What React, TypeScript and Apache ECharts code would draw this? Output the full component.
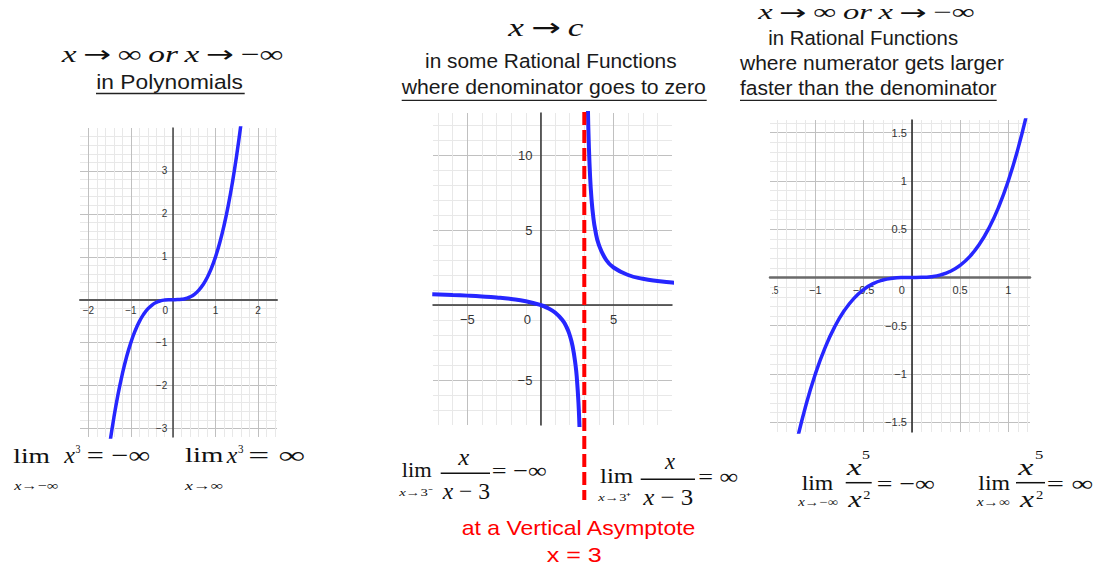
import React, { useEffect, useRef } from 'react';
import * as echarts from 'echarts';

// ---------- Panel 1: y = x³ (polynomial) ----------
const P1_X_RANGE = [-2.2, 2.45];
const P1_Y_RANGE = [-3.2, 4];
const P1_STEP = 1;
const P1_CURVE = [
  [-1.5, -3.375], [-1.4, -2.744], [-1.3, -2.197], [-1.2, -1.728], [-1.1, -1.331],
  [-1.0, -1.0], [-0.9, -0.729], [-0.8, -0.512], [-0.7, -0.343], [-0.6, -0.216],
  [-0.5, -0.125], [-0.4, -0.064], [-0.3, -0.027], [-0.2, -0.008], [-0.1, -0.001],
  [0, 0], [0.1, 0.001], [0.2, 0.008], [0.3, 0.027], [0.4, 0.064], [0.5, 0.125],
  [0.6, 0.216], [0.7, 0.343], [0.8, 0.512], [0.9, 0.729], [1.0, 1.0], [1.1, 1.331],
  [1.2, 1.728], [1.3, 2.197], [1.4, 2.744], [1.5, 3.375], [1.6, 4.096],
];

// ---------- Panel 2: y = x / (x − 3) ----------
const P2_X_RANGE = [-7.35, 9.0];
const P2_Y_RANGE = [-8, 12.8];
const P2_STEP = 5;
const P2_LEFT_BRANCH = [
  [-7.4, 0.712], [-6, 0.667], [-5, 0.625], [-4, 0.571], [-3, 0.5], [-2, 0.4],
  [-1, 0.25], [0, 0], [0.5, -0.2], [1, -0.5], [1.5, -1], [1.8, -1.5], [2, -2],
  [2.2, -2.75], [2.4, -4], [2.5, -5], [2.6, -6.5], [2.67, -8.09], [2.7, -9],
];
const P2_RIGHT_BRANCH = [
  [3.25, 13], [3.3, 11], [3.4, 8.5], [3.5, 7], [3.6, 6], [3.75, 5], [4, 4],
  [4.5, 3], [5, 2.5], [6, 2], [7, 1.75], [8, 1.6], [9, 1.5], [9.2, 1.484],
];
const P2_ASYMPTOTE_X = 3;

// ---------- Panel 3: y = x⁵ / x² ----------
const P3_X_RANGE = [-1.47, 1.225];
const P3_Y_RANGE = [-1.6, 1.63];
const P3_STEP = 0.5;
const P3_CURVE = [
  [-1.2, -1.728], [-1.1, -1.331], [-1.0, -1.0], [-0.9, -0.729], [-0.8, -0.512],
  [-0.7, -0.343], [-0.6, -0.216], [-0.5, -0.125], [-0.4, -0.064], [-0.3, -0.027],
  [-0.2, -0.008], [-0.1, -0.001], [0, 0], [0.1, 0.001], [0.2, 0.008], [0.3, 0.027],
  [0.4, 0.064], [0.5, 0.125], [0.6, 0.216], [0.7, 0.343], [0.8, 0.512],
  [0.9, 0.729], [1.0, 1.0], [1.1, 1.331], [1.2, 1.728],
];

const GRIDS = [
  { left: 80, top: 128, width: 197, height: 309 },
  { left: 433, top: 113, width: 239, height: 312 },
  { left: 770, top: 120, width: 260, height: 312 },
];

const SANS = '"Liberation Sans", Arial, sans-serif';
const SERIF = '"Liberation Serif", "Times New Roman", serif';
const ARROW_FONT = '"DejaVu Sans", sans-serif';
const BLUE = '#2626ff';
const RED = '#ff0000';
const MAJOR = '#c0c0c0';
const MINOR = '#e8e8e8';

type Look = {
  axisColor: string;
  axisWidth: number;
  fontSize: number;
  margin: number;
  zeroShift?: number;
};

function tickLabel(v: number, range: number[], step: number, showZero: boolean) {
  const k = Math.round(v / step);
  if (Math.abs(v - k * step) > 1e-6) return '';
  if (Math.abs(v - range[0]) < 1e-9 || Math.abs(v - range[1]) < 1e-9) return '';
  if (k === 0) return showZero ? '{z|0}' : '';
  const s = String(Math.abs(+(k * step).toFixed(4)));
  return (k < 0 ? '\u2212' : '') + s;
}

function makeAxis(dim: 'x' | 'y', gridIndex: number, range: number[], step: number, look: Look) {
  return {
    type: 'value',
    gridIndex,
    min: range[0],
    max: range[1],
    minInterval: step,
    maxInterval: step,
    splitNumber: 5,
    position: dim === 'x' ? 'bottom' : 'left',
    axisLine: { show: true, onZero: false, lineStyle: { color: look.axisColor, width: look.axisWidth } },
    axisTick: { show: false },
    minorTick: { show: false, splitNumber: 5 },
    axisLabel: {
      show: true,
      fontFamily: SANS,
      fontSize: look.fontSize,
      color: '#333',
      margin: look.margin,
      formatter: (v: number) => tickLabel(v, range, step, dim === 'x'),
      rich: {
        z: {
          fontFamily: SANS,
          fontSize: look.fontSize,
          color: '#333',
          padding: [0, (look.zeroShift || 0) * 2, 0, 0],
        },
      },
    },
    splitLine: {
      show: true,
      showMinLine: false,
      showMaxLine: false,
      lineStyle: { color: MAJOR, width: 1 },
    },
    minorSplitLine: { show: true, lineStyle: { color: MINOR, width: 1 } },
  };
}

// i = italic serif, n = upright, a = arrow glyph
type Seg = [string, 'i' | 'n' | 'a'];

export default function App() {
  const ref = useRef<HTMLDivElement>(null);

  useEffect(() => {
    const el = ref.current;
    if (!el) return;
    const chart = echarts.init(el, null, { renderer: 'svg' });
    const ctx = document.createElement('canvas').getContext('2d')!;

    // Text fitted horizontally between two x positions, vertically centred on midY.
    const piece = (
      segs: Seg[], size: number, left: number, right: number, midY: number,
      family: string = SERIF, fill: string = '#111'
    ) => {
      const fam = (k: string) => (k === 'a' ? ARROW_FONT : family);
      let natural = 0;
      segs.forEach(([t, k]) => {
        ctx.font = `${k === 'i' ? 'italic ' : ''}${size}px ${fam(k)}`;
        natural += ctx.measureText(t).width;
      });
      const scaleX = natural > 0 ? (right - left) / natural : 1;
      const tokenStyle = (k: string) => ({
        fontStyle: k === 'i' ? 'italic' : 'normal',
        fontSize: size,
        fontFamily: fam(k),
        fill,
      });
      return {
        type: 'text',
        x: left,
        y: midY,
        scaleX,
        z: 100,
        silent: true,
        style: {
          text: segs.map(([t, k]) => `{${k}|${t}}`).join(''),
          rich: { i: tokenStyle('i'), n: tokenStyle('n'), a: tokenStyle('a') },
          fontSize: size,
          fontFamily: family,
          fill,
          textAlign: 'left',
          textVerticalAlign: 'middle',
        },
      };
    };

    const rule = (x1: number, x2: number, y: number, w = 1.3, color = '#222') => ({
      type: 'line',
      z: 100,
      silent: true,
      shape: { x1, y1: y, x2, y2: y },
      style: { stroke: color, lineWidth: w },
    });

    const option: any = {
      animation: false,
      backgroundColor: '#ffffff',
      grid: GRIDS.map((g) => ({ ...g, containLabel: false, outerBoundsMode: 'none' })),
      xAxis: [
        makeAxis('x', 0, P1_X_RANGE, P1_STEP, { axisColor: '#5a5a5a', axisWidth: 2, fontSize: 10, margin: 6, zeroShift: 8 }),
        makeAxis('x', 1, P2_X_RANGE, P2_STEP, { axisColor: '#333', axisWidth: 1.5, fontSize: 13, margin: 8, zeroShift: 13 }),
        makeAxis('x', 2, P3_X_RANGE, P3_STEP, { axisColor: '#6a6a6a', axisWidth: 2.5, fontSize: 11, margin: 7, zeroShift: 10 }),
      ],
      yAxis: [
        makeAxis('y', 0, P1_Y_RANGE, P1_STEP, { axisColor: '#444', axisWidth: 1.5, fontSize: 10, margin: 6 }),
        makeAxis('y', 1, P2_Y_RANGE, P2_STEP, { axisColor: '#333', axisWidth: 1.5, fontSize: 13, margin: 8 }),
        makeAxis('y', 2, P3_Y_RANGE, P3_STEP, { axisColor: '#222', axisWidth: 1.5, fontSize: 11, margin: 5 }),
      ],
      series: [
        { data: P1_CURVE, xAxisIndex: 0, yAxisIndex: 0, width: 3.5 },
        { data: P2_LEFT_BRANCH, xAxisIndex: 1, yAxisIndex: 1, width: 4 },
        { data: P2_RIGHT_BRANCH, xAxisIndex: 1, yAxisIndex: 1, width: 4 },
        { data: P3_CURVE, xAxisIndex: 2, yAxisIndex: 2, width: 3.5 },
      ].map((s) => ({
        type: 'line',
        data: s.data,
        xAxisIndex: s.xAxisIndex,
        yAxisIndex: s.yAxisIndex,
        symbol: 'none',
        showSymbol: false,
        smooth: 0.5,
        clip: true,
        silent: true,
        z: 5,
        lineStyle: { color: BLUE, width: s.width },
      })),
    };
    chart.setOption(option);

    // Move each axis (line and tick labels) onto the other axis' zero.
    const zero = GRIDS.map((_, i) => chart.convertToPixel({ gridIndex: i } as any, [0, 0]) as number[]);
    const xOffsets = GRIDS.map((g, i) => ({ offset: -(g.top + g.height - zero[i][1]) }));
    const yOffsets = GRIDS.map((g, i) => ({ offset: -(zero[i][0] - g.left) }));

    // Vertical asymptote x = 3, placed through panel 2's scales and carried down past the plot.
    const top = chart.convertToPixel({ gridIndex: 1 } as any, [P2_ASYMPTOTE_X, P2_Y_RANGE[1]]) as number[];
    const asymptote = {
      type: 'line',
      z: 110,
      silent: true,
      shape: { x1: top[0], y1: top[1] - 1, x2: top[0], y2: 500 },
      style: { stroke: RED, lineWidth: 4, lineDash: [13, 5] },
    };

    const ARROW_INF: Seg[] = [
      ['x', 'i'], ['\u2009', 'n'], ['\u2192', 'a'], ['\u2009\u221E\u2009', 'n'], ['or', 'i'], ['\u2009', 'n'],
      ['x', 'i'], ['\u2009', 'n'], ['\u2192', 'a'], ['\u2009\u2212\u221E', 'n'],
    ];

    const graphics: any[] = [
      // panel 1 headings
      piece(ARROW_INF, 23, 61.7, 283.3, 53.5),
      piece([['in Polynomials', 'n']], 19.5, 96.3, 243, 82, SANS, '#1a1a1a'),
      rule(96, 244.7, 93.5),
      // panel 2 headings
      piece([['x', 'i'], ['\u2009', 'n'], ['\u2192', 'a'], ['\u2009', 'n'], ['c', 'i']], 25, 508.3, 583.3, 27.5),
      piece([['in some Rational Functions', 'n']], 19.5, 425, 676.7, 61.5, SANS, '#1a1a1a'),
      piece([['where denominator goes to zero', 'n']], 19.5, 401.7, 706, 87.5, SANS, '#1a1a1a'),
      rule(401.7, 706.7, 100.3),
      // panel 3 headings
      piece(ARROW_INF, 21, 758.3, 975, 12.5),
      piece([['in Rational Functions', 'n']], 19.5, 768.3, 958.3, 38.2, SANS, '#1a1a1a'),
      piece([['where numerator gets larger', 'n']], 19.5, 740, 1004, 63.2, SANS, '#1a1a1a'),
      piece([['faster than the denominator', 'n']], 19.5, 740, 996.7, 88.2, SANS, '#1a1a1a'),
      rule(740, 996.7, 100.3),

      // panel 1 limits
      piece([['lim', 'n']], 22, 13.3, 50, 455),
      piece([['x', 'i'], ['\u2192\u2212\u221E', 'n']], 13, 14.3, 58.3, 485.5),
      piece([['x', 'i']], 23, 64.3, 75, 455),
      piece([['3', 'n']], 12, 75.5, 80.5, 449),
      piece([['= \u2212\u221E', 'n']], 23, 86.7, 150, 455.5),
      piece([['lim', 'n']], 22, 185, 223.3, 455),
      piece([['x', 'i'], ['\u2192\u221E', 'n']], 13, 185, 223, 485.5),
      piece([['x', 'i']], 23, 226.7, 237.3, 455),
      piece([['3', 'n']], 12, 238, 243.5, 449),
      piece([['= \u221E', 'n']], 23, 248.3, 305, 455.5),

      // panel 2 limits
      piece([['lim', 'n']], 20, 401.7, 431.7, 470),
      piece([['x', 'i'], ['\u21923\u207B', 'n']], 11, 399.3, 433.3, 492),
      piece([['x', 'i']], 23, 458.3, 469.3, 457),
      rule(440.7, 490, 473.3, 1.5, '#111'),
      piece([['x', 'i'], [' \u2212 3', 'n']], 24, 442.7, 490, 491),
      piece([['= \u2212\u221E', 'n']], 22, 491.7, 546.7, 470.5),
      piece([['lim', 'n']], 21, 600, 633.3, 475.3),
      piece([['x', 'i'], ['\u21923\u207A', 'n']], 11, 598.3, 631.7, 498),
      piece([['x', 'i']], 23, 665, 675, 461),
      rule(640.7, 695, 479.3, 1.5, '#111'),
      piece([['x', 'i'], [' \u2212 3', 'n']], 24, 643.3, 693.3, 497),
      piece([['= \u221E', 'n']], 22, 698.3, 738.3, 476),

      // panel 2 asymptote caption
      piece([['at a Vertical Asymptote', 'n']], 20.5, 461.7, 696.7, 528, SANS, RED),
      piece([['x = 3', 'n']], 20.5, 546.7, 601.7, 554.5, SANS, RED),

      // panel 3 limits
      piece([['lim', 'n']], 22, 801.7, 833.3, 482.6),
      piece([['x', 'i'], ['\u2192\u2212\u221E', 'n']], 12, 798.3, 838.3, 502),
      piece([['x', 'i']], 23, 846.7, 861.7, 467),
      piece([['5', 'n']], 12, 862, 870, 455),
      rule(845.7, 871.7, 482.7, 1.5, '#111'),
      piece([['x', 'i']], 23, 848.3, 861.7, 499),
      piece([['2', 'n']], 12, 863.3, 870.5, 494.7),
      piece([['= \u2212\u221E', 'n']], 22, 876.7, 935, 484),
      piece([['lim', 'n']], 22, 978.3, 1010, 482.6),
      piece([['x', 'i'], ['\u2192\u221E', 'n']], 12, 976.7, 1010, 502),
      piece([['x', 'i']], 23, 1018.3, 1033.5, 467),
      piece([['5', 'n']], 12, 1035, 1043.3, 455),
      rule(1016, 1045, 482.7, 1.5, '#111'),
      piece([['x', 'i']], 23, 1020, 1034, 499),
      piece([['2', 'n']], 12, 1036, 1043.3, 494.7),
      piece([['= \u221E', 'n']], 22, 1046.7, 1093.3, 484),

      // clipped "−1.5" tick text at panel 3's left edge
      piece([['.5', 'n']], 11, 771.5, 778.5, 290, SANS, '#333'),

      asymptote,
    ];

    chart.setOption({ xAxis: xOffsets, yAxis: yOffsets, graphic: graphics });

    return () => {
      chart.dispose();
    };
  }, []);

  return (
    <div
      ref={ref}
      style={{ position: 'fixed', left: 0, top: 0, width: 1097, height: 567, background: '#ffffff' }}
    />
  );
}
